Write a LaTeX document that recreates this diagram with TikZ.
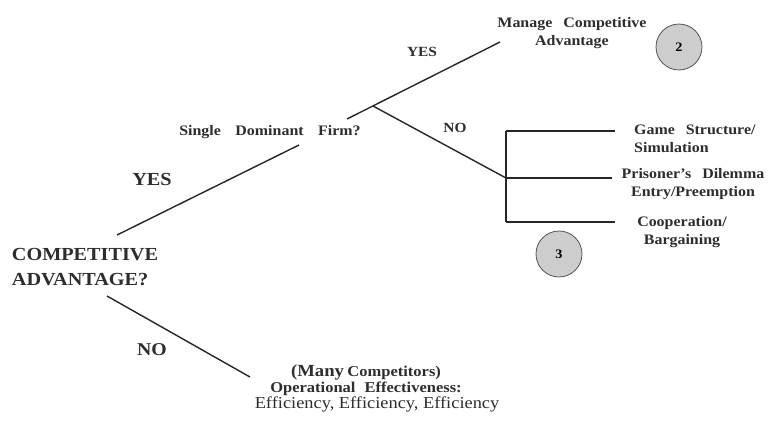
\documentclass[tikz,border=0pt]{standalone}
\usepackage{fontspec}
\setmainfont[FakeStretch=1.1]{Liberation Serif}
\usepackage{tikz}
\definecolor{ink}{RGB}{45,45,45}
\definecolor{disc}{RGB}{205,205,205}
\definecolor{rim}{RGB}{85,85,85}
% wider gaps between words
\newcommand\wordgap[1]{\spaceskip=#1\relax}
\tikzset{
  question/.style={
    align=left, inner sep=0pt, text=ink,
    font=\bfseries\fontsize{18.4}{25}\selectfont
  },
  answer/.style={inner sep=0pt, text=ink, font=\bfseries\fontsize{#1}{#1}\selectfont},
  answer/.default=14,
  leaf/.style={
    inner sep=0pt, text=ink, align=center,
    font={\bfseries\fontsize{14.5}{18}\selectfont\wordgap{0.75em}}
  },
  marker/.style={
    circle, draw=rim, thick, fill=disc, minimum size=46pt,
    inner sep=0pt, font=\bfseries\fontsize{13}{14}\selectfont
  },
  link/.style={draw=black!85, line width=1.4pt},
}

\begin{document}
\begin{tikzpicture}[x=1pt,y=-1pt]
  \useasboundingbox (0,0) rectangle (772,421);

  % first question and its two answers
  \node[question] (root) at (85,267) {COMPETITIVE\\ADVANTAGE?};
  \node[answer=18.4] (yes-root) at (152,179) {YES};
  \node[answer=18] (no-root) at (152,350) {NO};

  % YES: one dominant firm or not
  \node[leaf, font={\bfseries\fontsize{14.5}{16}\selectfont\wordgap{1em}}] (single) at (270,132) {Single Dominant Firm?};
  \node[answer] (yes-single) at (422,52) {YES};
  \node[answer] (no-single) at (455,128) {NO};

  \node[leaf] (manage) at (572,33) {Manage Competitive\\Advantage};
  \node[marker] (c2) at (679,47) {2};

  % the three game options
  \node[leaf, align=left, anchor=west] (game) at (634,139) {Game Structure/\\Simulation};
  \node[leaf] (prisoner) at (693,184) {Prisoner's Dilemma\\Entry/Preemption};
  \node[leaf] (coop) at (682,232) {Cooperation/\\Bargaining};
  \node[marker] (c3) at (559,254) {3};

  % NO: many competitors
  \node[leaf, font={\bfseries\fontsize{15}{16}\selectfont\wordgap{0.6em}}] (many) at (366,388)
    {{\fontsize{17}{16}\selectfont\wordgap{0.2em}(Many }Competitors)\\
     Operational Effectiveness:\\
     \hspace*{22pt}{\mdseries\fontsize{16.7}{16}\selectfont\wordgap{0pt}Efficiency, Efficiency, Efficiency}};

  % branch lines
  \coordinate (root-up) at (117,235);
  \coordinate (single-in) at (299,145);
  \coordinate (single-out) at (347,119);
  \coordinate (fork) at (373,106);
  \coordinate (manage-in) at (500,42);
  \coordinate (bar-top) at (506,131);
  \coordinate (bar-mid) at (506,178);
  \coordinate (bar-bot) at (506,222);
  \coordinate (game-in) at (615,131);
  \coordinate (prisoner-in) at (612,178);
  \coordinate (coop-in) at (615,222);
  \coordinate (root-down) at (107,296);
  \coordinate (many-in) at (250,377);

  \draw[link] (root-up) -- (single-in);
  \draw[link] (single-out) -- (manage-in);
  \draw[link] (fork) -- (bar-mid);
  \draw[link] (bar-top) -- (bar-bot);
  \draw[link] (bar-top) -- (game-in);
  \draw[link] (bar-mid) -- (prisoner-in);
  \draw[link] (bar-bot) -- (coop-in);
  \draw[link] (root-down) -- (many-in);
\end{tikzpicture}
\end{document}
